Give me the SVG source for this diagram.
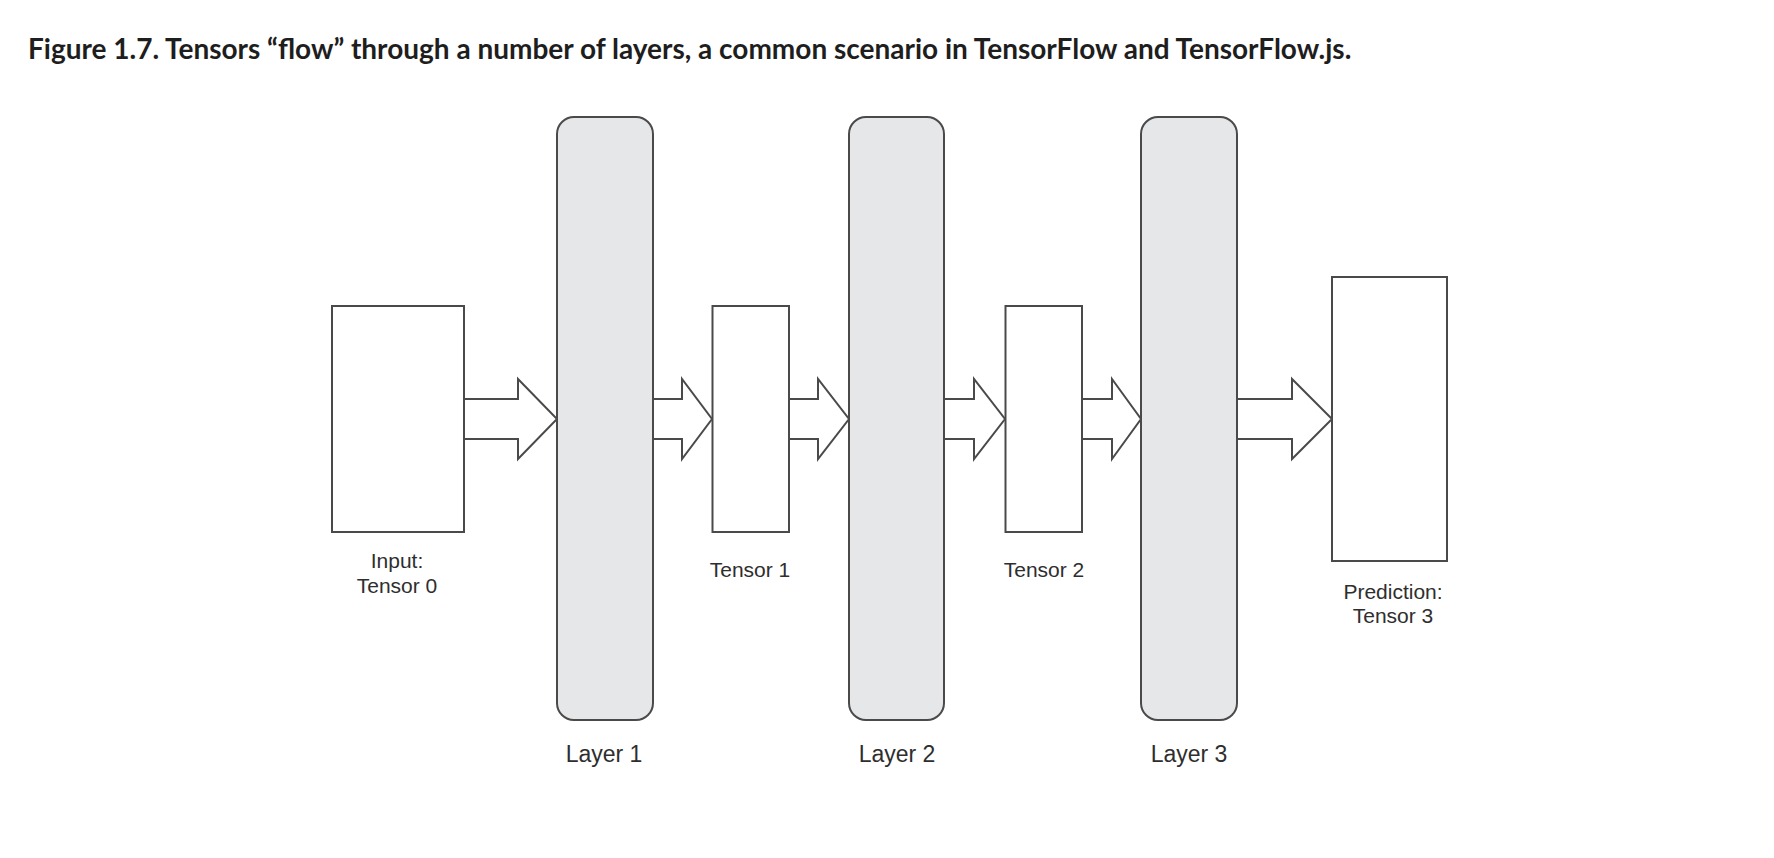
<svg xmlns="http://www.w3.org/2000/svg" width="1774" height="858" viewBox="0 0 1774 858">
<style>
.title{font-family:Lato,"Liberation Sans",sans-serif;font-weight:bold;font-size:28px;fill:#1e1e1e}
.box{fill:#ffffff;stroke:#4a4a4a;stroke-width:2}
.layer{fill:#e6e7e9;stroke:#4a4a4a;stroke-width:2}
.arrow{fill:#ffffff;stroke:#4a4a4a;stroke-width:2;stroke-linejoin:miter}
.lbl{font-family:"Liberation Sans",Arial,sans-serif;font-size:21px;fill:#2e2e2e;text-anchor:middle}
.llbl{font-family:"Liberation Sans",Arial,sans-serif;font-size:23px;fill:#2e2e2e;text-anchor:middle}
</style>
<rect width="1774" height="858" fill="#ffffff"/>
<text class="title" x="28" y="59">Figure 1.7. Tensors “flow” through a number of layers, a common scenario in TensorFlow and TensorFlow.js.</text>
<g id="connectors">
<path class="arrow" d="M464,399 L518,399 L518,379 L557,419 L518,459 L518,439 L464,439"/>
<path class="arrow" d="M653,399 L682,399 L682,379 L712,419 L682,459 L682,439 L653,439"/>
<path class="arrow" d="M789,399 L818,399 L818,379 L849,419 L818,459 L818,439 L789,439"/>
<path class="arrow" d="M944,399 L974,399 L974,379 L1005,419 L974,459 L974,439 L944,439"/>
<path class="arrow" d="M1082,399 L1112,399 L1112,379 L1141,419 L1112,459 L1112,439 L1082,439"/>
<path class="arrow" d="M1237,399 L1292,399 L1292,379 L1332,419 L1292,459 L1292,439 L1237,439"/>
</g>
<g id="tensor0">
<rect class="box" x="332" y="306" width="132" height="226"/>
<text class="lbl" x="397" y="568">Input:</text>
<text class="lbl" x="397" y="593">Tensor 0</text>
</g>
<g id="layer1">
<rect class="layer" x="557" y="117" width="96" height="603" rx="17"/>
<text class="llbl" x="604" y="762">Layer 1</text>
</g>
<g id="tensor1">
<rect class="box" x="712.5" y="306" width="76.5" height="226"/>
<text class="lbl" x="750" y="577">Tensor 1</text>
</g>
<g id="layer2">
<rect class="layer" x="849" y="117" width="95" height="603" rx="17"/>
<text class="llbl" x="897" y="762">Layer 2</text>
</g>
<g id="tensor2">
<rect class="box" x="1005.5" y="306" width="76.5" height="226"/>
<text class="lbl" x="1044" y="577">Tensor 2</text>
</g>
<g id="layer3">
<rect class="layer" x="1141" y="117" width="96" height="603" rx="17"/>
<text class="llbl" x="1189" y="762">Layer 3</text>
</g>
<g id="tensor3">
<rect class="box" x="1332" y="277" width="115" height="284"/>
<text class="lbl" x="1393" y="599">Prediction:</text>
<text class="lbl" x="1393" y="623">Tensor 3</text>
</g>
</svg>
